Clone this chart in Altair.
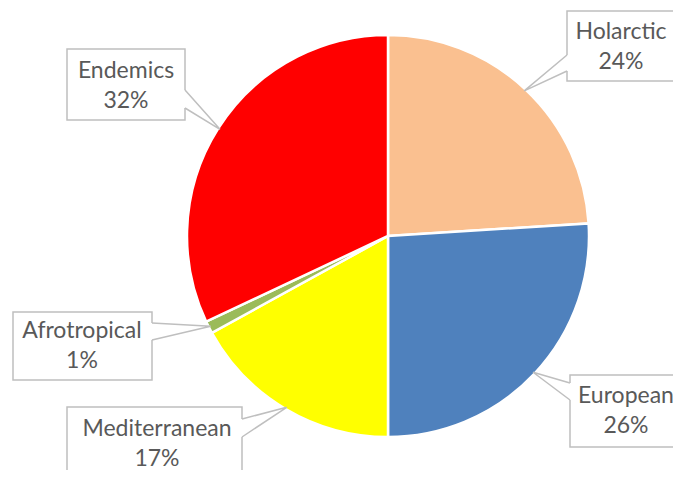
import math
import altair as alt
import pandas as pd

# ---- data ----
categories = ["Holarctic", "European", "Mediterranean", "Afrotropical", "Endemics"]
percents = [24, 26, 17, 1, 32]
colors = ["#FAC090", "#4F81BD", "#FFFF00", "#9BBB59", "#FF0000"]

# ---- layout (image pixel coordinates) ----
CX, CY, R = 388, 236, 201
box_x1 = [567, 570, 67, 13, 67]
box_x2 = [676, 700, 242, 152, 185]
box_y1 = [11, 375, 407, 312, 49]
box_y2 = [81, 447, 492, 380, 120]
base_x = [567, 570, 242, 152, 185]
base_y1 = [55, 383, 419, 323, 90]
base_y2 = [71, 400, 437, 340, 108]
text_x = [621, 626, 157, 82, 126]
text_y = [32, 396, 429, 331, 71]

W, H = 665, 462
xs = alt.Scale(domain=[8, 8 + W], range=[0, W], nice=False, zero=False)
ys = alt.Scale(domain=[8, 8 + H], range=[0, H], nice=False, zero=False)

pie_df = pd.DataFrame({"cat": categories, "pct": percents, "ord": list(range(len(categories)))})

# leader tips from the slice mid-angles
cum = 0
tips = []
for p in percents:
    mid = (cum + p / 2) / 100 * 2 * math.pi
    tips.append((CX + (R - 2) * math.sin(mid), CY - (R - 2) * math.cos(mid)))
    cum += p

box_df = pd.DataFrame({"cat": categories, "x1": box_x1, "x2": box_x2, "y1": box_y1, "y2": box_y2})
cover_df = pd.DataFrame({"cat": categories, "x": base_x, "y1": base_y1, "y2": base_y2})
wedge_rows = []
for i, c in enumerate(categories):
    wedge_rows.append({"cat": c, "o": 0, "x": base_x[i], "y": base_y1[i]})
    wedge_rows.append({"cat": c, "o": 1, "x": tips[i][0], "y": tips[i][1]})
    wedge_rows.append({"cat": c, "o": 2, "x": base_x[i], "y": base_y2[i]})
wedge_df = pd.DataFrame(wedge_rows)
text_df = pd.DataFrame({
    "cat": categories,
    "label": [f"{c}\n{p}%" for c, p in zip(categories, percents)],
    "x": text_x, "y": text_y,
})

pie = alt.Chart(pie_df).mark_arc(radius=R, stroke="white", strokeWidth=2.5).encode(
    theta=alt.Theta("pct:Q", stack=True),
    order=alt.Order("ord:Q"),
    color=alt.Color("cat:N", scale=alt.Scale(domain=categories, range=colors), legend=None),
    x=alt.value(CX - 8),
    y=alt.value(CY - 8),
)

gray = "#BFBFBF"
boxes = alt.Chart(box_df).mark_rect(fill="white", stroke=gray, strokeWidth=1.5).encode(
    x=alt.X("x1:Q", scale=xs, axis=None), x2="x2:Q",
    y=alt.Y("y1:Q", scale=ys, axis=None), y2="y2:Q",
)
cover = alt.Chart(cover_df).mark_rule(color="white", strokeWidth=3).encode(
    x=alt.X("x:Q", scale=xs, axis=None),
    y=alt.Y("y1:Q", scale=ys, axis=None), y2="y2:Q",
)
wedges = alt.Chart(wedge_df).mark_line(color=gray, strokeWidth=1.5).encode(
    x=alt.X("x:Q", scale=xs, axis=None),
    y=alt.Y("y:Q", scale=ys, axis=None),
    detail="cat:N",
    order="o:Q",
)
texts = alt.Chart(text_df).mark_text(
    font="Lato", fontSize=23, color="#595959", lineBreak="\n", lineHeight=30, align="center", baseline="middle"
).encode(
    x=alt.X("x:Q", scale=xs, axis=None),
    y=alt.Y("y:Q", scale=ys, axis=None),
    text="label:N",
)

chart = alt.layer(pie, boxes, cover, wedges, texts).properties(
    width=W, height=H, padding=0, autosize=alt.AutoSizeParams(type="none")
).configure_view(stroke=None).resolve_scale(color="independent")

chart.save("out.html", embed_options={"renderer": "svg", "actions": False})
